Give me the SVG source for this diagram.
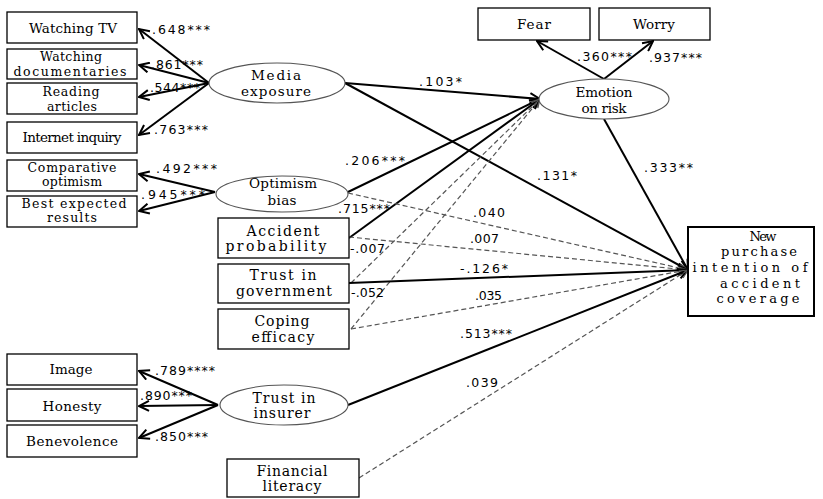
<svg xmlns="http://www.w3.org/2000/svg" width="823" height="499" viewBox="0 0 823 499">
<style>
.box{fill:#fff;stroke:#000;stroke-width:1.3}
.ell{fill:#fff;stroke:#555;stroke-width:1.1}
.t{font-family:"DejaVu Serif","Liberation Serif",serif;font-size:13.5px;fill:#000;text-anchor:middle}
.t2{font-family:"DejaVu Serif","Liberation Serif",serif;font-size:12.5px;fill:#000;text-anchor:middle}
.tw{font-family:"DejaVu Serif","Liberation Serif",serif;font-size:14px;fill:#000;text-anchor:middle}
.tn{font-family:"DejaVu Serif","Liberation Serif",serif;font-size:13px;fill:#000;text-anchor:middle}
.n{font-family:"DejaVu Sans","Liberation Sans",sans-serif;font-size:12.5px;fill:#000}
.s{fill:none;stroke:#000;stroke-width:2}
.d{fill:none;stroke:#555;stroke-width:1.2;stroke-dasharray:5,3}
</style>
<defs>
<marker id="a" viewBox="0 0 12 12" refX="11" refY="6" markerWidth="12" markerHeight="12" markerUnits="userSpaceOnUse" orient="auto">
<path d="M1,1 L11,6 L1,11" fill="none" stroke="#000" stroke-width="2"/>
</marker>
<marker id="ad" viewBox="0 0 12 12" refX="11" refY="6" markerWidth="10" markerHeight="10" markerUnits="userSpaceOnUse" orient="auto">
<path d="M1,1 L11,6 L1,11" fill="none" stroke="#555" stroke-width="1.2"/>
</marker>
</defs>
<rect width="823" height="499" fill="#fff"/>

<g id="connectors">
<line class="s" x1="209" y1="83" x2="139" y2="29" marker-end="url(#a)"/>
<line class="s" x1="209" y1="83" x2="139" y2="65" marker-end="url(#a)"/>
<line class="s" x1="209" y1="83" x2="139" y2="97" marker-end="url(#a)"/>
<line class="s" x1="209" y1="83" x2="139" y2="135" marker-end="url(#a)"/>
<line class="s" x1="215" y1="192" x2="139" y2="174" marker-end="url(#a)"/>
<line class="s" x1="215" y1="192" x2="139" y2="211" marker-end="url(#a)"/>
<line class="s" x1="218" y1="405" x2="139" y2="371" marker-end="url(#a)"/>
<line class="s" x1="218" y1="405" x2="139" y2="406" marker-end="url(#a)"/>
<line class="s" x1="218" y1="405" x2="139" y2="438" marker-end="url(#a)"/>
<line class="s" x1="604" y1="79" x2="537" y2="41" marker-end="url(#a)"/>
<line class="s" x1="604" y1="79" x2="653" y2="41" marker-end="url(#a)"/>
<line class="s" x1="345" y1="83" x2="540" y2="99" marker-end="url(#a)"/>
<line class="s" x1="345" y1="83" x2="688" y2="270" marker-end="url(#a)"/>
<line class="s" x1="604" y1="119" x2="688" y2="270" marker-end="url(#a)"/>
<line class="s" x1="348" y1="192" x2="540" y2="99" marker-end="url(#a)"/>
<line class="s" x1="349" y1="238" x2="540" y2="99" marker-end="url(#a)"/>
<line class="d" x1="351" y1="283" x2="540" y2="99" marker-end="url(#ad)"/>
<line class="d" x1="351" y1="329" x2="540" y2="99" marker-end="url(#ad)"/>
<line class="d" x1="348" y1="193" x2="688" y2="270" marker-end="url(#ad)"/>
<line class="d" x1="349" y1="237" x2="688" y2="270" marker-end="url(#ad)"/>
<line class="s" x1="349" y1="283" x2="688" y2="270" marker-end="url(#a)"/>
<line class="d" x1="351" y1="329" x2="688" y2="270" marker-end="url(#ad)"/>
<line class="s" x1="348" y1="405" x2="688" y2="270" marker-end="url(#a)"/>
<line class="d" x1="359" y1="478" x2="688" y2="270" marker-end="url(#ad)"/>
</g>

<g id="labels">
<text class="n" x="152" y="34" textLength="58">.648***</text>
<text class="n" x="151" y="69" textLength="52">.861***</text>
<text class="n" x="150" y="92" textLength="50">.544***</text>
<text class="n" x="154" y="134" textLength="54">.763***</text>
<text class="n" x="156" y="173" textLength="61">.492***</text>
<text class="n" x="141" y="199" textLength="64">.945***</text>
<text class="n" x="155" y="375" textLength="60">.789****</text>
<text class="n" x="140" y="400" textLength="52">.890***</text>
<text class="n" x="155" y="441" textLength="53">.850***</text>
<text class="n" x="419" y="86" textLength="43">.103*</text>
<text class="n" x="345" y="165" textLength="60">.206***</text>
<text class="n" x="537" y="180" textLength="40">.131*</text>
<text class="n" x="577" y="61" textLength="55">.360***</text>
<text class="n" x="649" y="62" textLength="53">.937***</text>
<text class="n" x="644" y="172" textLength="49">.333**</text>
<text class="n" x="338" y="213" textLength="52">.715***</text>
<text class="n" x="473" y="217" textLength="32">.040</text>
<text class="n" x="350" y="253" textLength="35">-.007</text>
<text class="n" x="470" y="243" textLength="29">.007</text>
<text class="n" x="460" y="273" textLength="48">-.126*</text>
<text class="n" x="351" y="297" textLength="33">-.052</text>
<text class="n" x="475" y="300" textLength="27">.035</text>
<text class="n" x="460" y="338" textLength="52">.513***</text>
<text class="n" x="466" y="387" textLength="32">.039</text>
</g>

<g id="watching-tv"><rect class="box" x="7" y="12" width="130" height="31"/><text class="t" x="73" y="33" textLength="88">Watching TV</text></g>
<g id="watching-doc"><rect class="box" x="7" y="49" width="130" height="30"/><text class="t2" x="71" y="61" textLength="62">Watching</text><text class="t2" x="70" y="76" textLength="113">documentaries</text></g>
<g id="reading"><rect class="box" x="7" y="83" width="130" height="31"/><text class="t2" x="71" y="96" textLength="57">Reading</text><text class="t2" x="72" y="111" textLength="50">articles</text></g>
<g id="internet"><rect class="box" x="7" y="122" width="130" height="31"/><text class="t" x="72" y="142" textLength="99">Internet inquiry</text></g>
<g id="comparative"><rect class="box" x="7" y="160" width="130" height="31"/><text class="t2" x="72" y="172" textLength="89">Comparative</text><text class="t2" x="72" y="186" textLength="60">optimism</text></g>
<g id="best"><rect class="box" x="7" y="196" width="130" height="31"/><text class="t2" x="74" y="208" textLength="105">Best expected</text><text class="t2" x="72" y="222" textLength="50">results</text></g>
<g id="image"><rect class="box" x="7" y="354" width="130" height="31"/><text class="t" x="71" y="374" textLength="43">Image</text></g>
<g id="honesty"><rect class="box" x="7" y="389" width="130" height="32"/><text class="t" x="72" y="411" textLength="59">Honesty</text></g>
<g id="benevolence"><rect class="box" x="7" y="425" width="130" height="32"/><text class="t" x="72" y="446" textLength="92">Benevolence</text></g>
<g id="fear"><rect class="box" x="478" y="8" width="112" height="32"/><text class="t" x="534" y="29" textLength="34">Fear</text></g>
<g id="worry"><rect class="box" x="599" y="8" width="111" height="32"/><text class="t" x="654" y="29" textLength="42">Worry</text></g>

<g id="media"><ellipse class="ell" cx="277" cy="83" rx="68" ry="20"/><text class="t" x="276" y="80" textLength="50">Media</text><text class="t" x="276" y="96" textLength="70">exposure</text></g>
<g id="optimism"><ellipse class="ell" cx="282" cy="194" rx="66" ry="18"/><text class="t" x="283" y="188" textLength="68">Optimism</text><text class="t" x="282" y="205" textLength="29">bias</text></g>
<g id="emotion"><ellipse class="ell" cx="604" cy="99" rx="65" ry="20"/><text class="t" x="604" y="97" textLength="57">Emotion</text><text class="t" x="604" y="113" textLength="45">on risk</text></g>
<g id="insurer"><ellipse class="ell" cx="284" cy="405" rx="64" ry="20"/><text class="tw" x="284" y="403" textLength="63">Trust in</text><text class="tw" x="282" y="418" textLength="57">insurer</text></g>

<g id="accident"><rect class="box" x="218" y="218" width="131" height="40"/><text class="tw" x="283" y="236" textLength="73">Accident</text><text class="tw" x="276" y="251" textLength="101">probability</text></g>
<g id="government"><rect class="box" x="218" y="264" width="131" height="39"/><text class="tw" x="283" y="280" textLength="67">Trust in</text><text class="tw" x="284" y="296" textLength="96">government</text></g>
<g id="coping"><rect class="box" x="218" y="309" width="131" height="40"/><text class="tw" x="282" y="326" textLength="55">Coping</text><text class="tw" x="283" y="342" textLength="63">efficacy</text></g>
<g id="financial"><rect class="box" x="227" y="459" width="132" height="38"/><text class="tw" x="292" y="476" textLength="71">Financial</text><text class="tw" x="292" y="491" textLength="59">literacy</text></g>
<g id="new-purchase"><rect class="box" x="688" y="227" width="126" height="89" style="stroke-width:2"/><text class="tn" x="763" y="241" textLength="27">New</text><text class="tn" x="759" y="256" textLength="76">purchase</text><text class="tn" x="750" y="272" textLength="115">intention of</text><text class="tn" x="760" y="288" textLength="80">accident</text><text class="tn" x="758" y="303" textLength="83">coverage</text></g>
</svg>
